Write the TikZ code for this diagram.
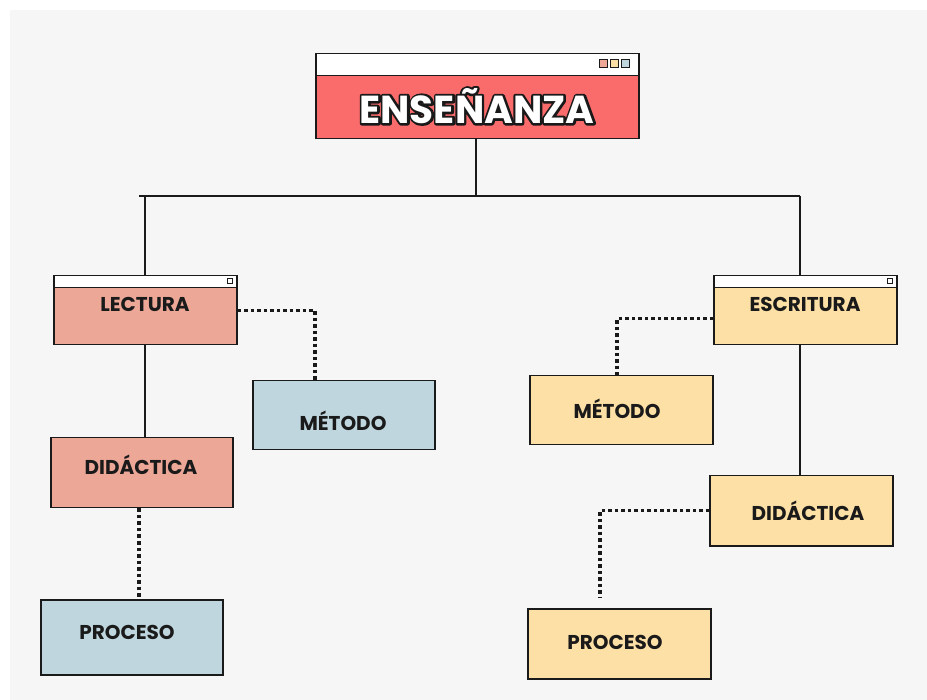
\documentclass[tikz,border=0pt]{standalone}
\usepackage{fontspec}
\setmainfont{Poppins}
\usetikzlibrary{calc}
\definecolor{paper}{HTML}{F6F6F6}
\definecolor{redbox}{HTML}{FA6C6C}
\definecolor{salmon}{HTML}{ECA797}
\definecolor{sand}{HTML}{FDE0A6}
\definecolor{sky}{HTML}{BFD6DF}
\definecolor{ink}{HTML}{1A1A1A}
\newcommand{\strokedtext}[1]{\special{pdf:literal direct 2 Tr 4.4 w 1 j 0.1 0.1 0.1 RG 0.1 0.1 0.1 rg}#1\special{pdf:literal direct 0 Tr}}
\begin{document}
\begin{tikzpicture}[x=1pt,y=-1pt,
  box/.style={draw=ink,line width=1.5pt,rectangle,inner sep=0pt,anchor=north west},
  bar/.style={box,fill=white},
  lbl/.style={font=\bfseries\fontsize{20}{22}\selectfont,text=ink,inner sep=0pt},
  big/.style={inner sep=0pt,font=\bfseries\fontsize{39}{43}\selectfont},
  link/.style={draw=ink,line width=1.5pt},
  dots/.style={draw=ink,line width=3.5pt,dash pattern=on 3.5pt off 3pt},
  tiny/.style={draw=ink,line width=1pt,rectangle,inner sep=0pt,minimum size=6pt}]
\useasboundingbox (0,0) rectangle (927,700);
\fill[white] (0,0) rectangle (927,700);
\fill[paper] (10,10) rectangle (927,700);
% ENSENANZA
\node[bar,minimum width=323pt,minimum height=22pt] (enst) at (315,53) {};
\node[box,fill=redbox,minimum width=323pt,minimum height=63pt] (ens) at (315,75) {};
\node[tiny,fill=salmon,minimum size=8pt] (sq1) at (603,64) {};
\node[tiny,fill=sand,minimum size=8pt] (sq2) at (614,64) {};
\node[tiny,fill=sky,minimum size=8pt] (sq3) at (625,64) {};
\node[big] (enssh) at (477,106) {\strokedtext{ENSEÑANZA}};
\node[big,text=white] (enstx) at (477,106) {ENSEÑANZA};
% LECTURA
\node[bar,minimum width=183pt,minimum height=12pt] (lect) at (53,275) {};
\node[box,fill=salmon,minimum width=183pt,minimum height=57pt] (lec) at (53,287) {};
\node[tiny,fill=white,minimum size=5pt] (lsq) at (230,281) {};
\node[lbl] (lectx) at (145,304) {LECTURA};
% METODO left
\node[box,fill=sky,minimum width=182pt,minimum height=69pt] (met1) at (252,380) {};
\node[lbl] (met1tx) at (343,421) {MÉTODO};
% DIDACTICA left
\node[box,fill=salmon,minimum width=182pt,minimum height=70pt] (did1) at (50,437) {};
\node[lbl] (did1tx) at (141,465) {DIDÁCTICA};
% PROCESO left
\node[box,fill=sky,minimum width=182pt,minimum height=75pt] (pro1) at (40,599) {};
\node[lbl] (pro1tx) at (127,632) {PROCESO};
% ESCRITURA
\node[bar,minimum width=183pt,minimum height=12pt] (esct) at (713,275) {};
\node[box,fill=sand,minimum width=183pt,minimum height=57pt] (esc) at (713,287) {};
\node[tiny,fill=white,minimum size=5pt] (esq) at (890,281) {};
\node[lbl] (esctx) at (805,304) {ESCRITURA};
% METODO right
\node[box,fill=sand,minimum width=183pt,minimum height=69pt] (met2) at (529,375) {};
\node[lbl] (met2tx) at (617,409) {MÉTODO};
% DIDACTICA right
\node[box,fill=sand,minimum width=183pt,minimum height=70pt] (did2) at (709,475) {};
\node[lbl] (did2tx) at (808,511) {DIDÁCTICA};
% PROCESO right
\node[box,fill=sand,minimum width=183pt,minimum height=70pt] (pro2) at (527,608) {};
\node[lbl] (pro2tx) at (615,642) {PROCESO};
% connectors
\coordinate (hl) at (139,196);
\coordinate (hm) at (476,196);
\coordinate (hr) at (800,196);
\coordinate (pro2top) at (600,597);
\draw[link] (ens.south -| hm) -- (hm);
\draw[link] (hl) -- (hr);
\draw[link] (hl -| 145,0) -- (lect.north -| 145,0);
\draw[link] (hr) -- (esct.north -| hr);
\draw[link] (lec.south -| 145,0) -- (did1.north -| 145,0);
\draw[link] (esc.south -| hr) -- (did2.north -| hr);
\draw[dots] ([yshift=5.5pt]lec.east) -| (met1.north -| 315,0);
\draw[dots] ([yshift=-2.5pt]esc.west) -| (met2.north -| 617,0);
\draw[dots] (did1.south -| 139,0) -- ([yshift=2pt]pro1.north -| 139,0);
\draw[dots] ([yshift=0pt]did2.west) -| (pro2top);
\end{tikzpicture}
\end{document}
